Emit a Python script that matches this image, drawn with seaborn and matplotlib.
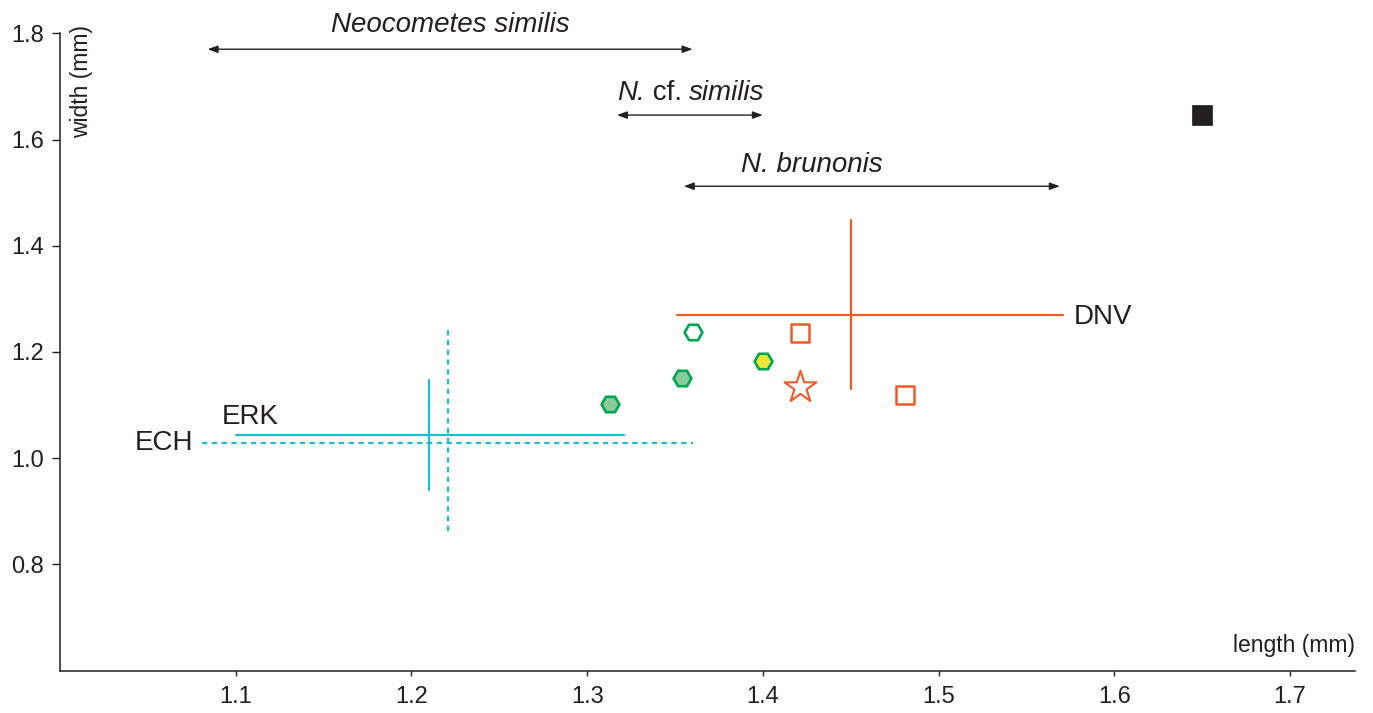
import numpy as np
import pandas as pd
import seaborn as sns
import matplotlib.pyplot as plt
from matplotlib.offsetbox import TextArea, HPacker, AnnotationBbox

# individual specimens (length, width in mm)
pt_length = [1.313, 1.354, 1.360, 1.400, 1.421, 1.421, 1.481, 1.650]
pt_width = [1.101, 1.150, 1.238, 1.183, 1.236, 1.133, 1.118, 1.647]
pt_kind = ['hex_fill', 'hex_fill', 'hex_open', 'hex_yellow',
           'square_open', 'star', 'square_open', 'square_black']

# population crosses: mean and min/max
pop_names = ['ERK', 'ECH', 'DNV']
pop_len_mean = [1.210, 1.221, 1.450]
pop_wid_mean = [1.044, 1.029, 1.269]
pop_len_min = [1.100, 1.081, 1.351]
pop_len_max = [1.321, 1.360, 1.571]
pop_wid_min = [0.940, 0.863, 1.130]
pop_wid_max = [1.147, 1.246, 1.448]

# length ranges of the taxa
taxa = ['Neocometes similis', 'N. cf. similis', 'N. brunonis']
taxa_min = [1.084, 1.317, 1.355]
taxa_max = [1.360, 1.400, 1.569]
taxa_y = [1.770, 1.646, 1.512]
taxa_label_x = [1.222, 1.359, 1.428]
taxa_label_y = [1.816, 1.687, 1.552]

x_ticks = [1.1, 1.2, 1.3, 1.4, 1.5, 1.6, 1.7]
y_ticks = [0.8, 1.0, 1.2, 1.4, 1.6, 1.8]

sns.set_style('ticks')
plt.rcParams['font.family'] = ['Liberation Sans', 'DejaVu Sans']

ink = '#231f20'
orange = '#f05a28'
cyan = '#1cbcd6'
green = '#00a651'

fig = plt.figure(figsize=(13.73, 7.13), dpi=100)
ax = fig.add_axes([60 / 1373, 1 - 670.5 / 713, 1295 / 1373, 637.2 / 713])

df = pd.DataFrame({'length': pt_length, 'width': pt_width, 'kind': pt_kind})

styles = {
    'hex_fill': dict(marker='H', s=165, color='#8acb9a', edgecolor=green, linewidth=1.9),
    'hex_open': dict(marker='H', s=165, color='white', edgecolor=green, linewidth=1.9),
    'hex_yellow': dict(marker='H', s=165, color='#eee73a', edgecolor=green, linewidth=1.9),
    'square_open': dict(marker='s', s=170, color='white', edgecolor=orange, linewidth=1.8),
    'star': dict(marker='*', s=580, color='white', edgecolor=orange, linewidth=1.5),
    'square_black': dict(marker='s', s=220, color=ink, edgecolor=ink, linewidth=0.5),
}

# population crosses
pop_dash = {'ERK': '-', 'ECH': (0, (2.4, 2.0)), 'DNV': '-'}
pop_color = {'ERK': cyan, 'ECH': cyan, 'DNV': orange}
for i, name in enumerate(pop_names):
    ax.plot([pop_len_min[i], pop_len_max[i]], [pop_wid_mean[i], pop_wid_mean[i]],
            color=pop_color[name], lw=1.6, ls=pop_dash[name], zorder=2)
    ax.plot([pop_len_mean[i], pop_len_mean[i]], [pop_wid_min[i], pop_wid_max[i]],
            color=pop_color[name], lw=1.6, ls=pop_dash[name], zorder=2)

for kind, st in styles.items():
    sub = df[df['kind'] == kind]
    sns.scatterplot(data=sub, x='length', y='width', ax=ax, zorder=3, legend=False, **st)

# population labels
ax.text(pop_len_min[0] - 0.008, pop_wid_mean[0] + 0.034, 'ERK', fontsize=20,
        color=ink, ha='left', va='center')
ax.text(pop_len_min[1] - 0.005, pop_wid_mean[1], 'ECH', fontsize=20,
        color=ink, ha='right', va='center')
ax.text(pop_len_max[2] + 0.006, pop_wid_mean[2] - 0.004, 'DNV', fontsize=20,
        color=ink, ha='left', va='center')

# taxon length ranges
for i in range(len(taxa)):
    ax.annotate('', xy=(taxa_min[i], taxa_y[i]), xytext=(taxa_max[i], taxa_y[i]),
                arrowprops=dict(arrowstyle='<|-|>,head_length=0.6,head_width=0.22',
                                color=ink, lw=1.0, shrinkA=0, shrinkB=0),
                annotation_clip=False)

tprops = dict(fontsize=20, color=ink)
for i in [0, 2]:
    ax.text(taxa_label_x[i], taxa_label_y[i], taxa[i], style='italic',
            ha='center', va='center', clip_on=False, **tprops)

# "N. cf. similis" with upright "cf."
parts = [TextArea('N.', textprops=dict(style='italic', **tprops)),
         TextArea(' cf. ', textprops=dict(style='normal', **tprops)),
         TextArea('similis', textprops=dict(style='italic', **tprops))]
packed = HPacker(children=parts, align='baseline', pad=0, sep=0)
ab = AnnotationBbox(packed, (taxa_label_x[1], taxa_label_y[1]), xycoords='data',
                    box_alignment=(0.5, 0.5), frameon=False, pad=0,
                    annotation_clip=False)
ax.add_artist(ab)

ax.set_xlim(1.0, 1.737)
ax.set_ylim(0.6, 1.8)
ax.set_xticks(x_ticks)
ax.set_yticks(y_ticks)
ax.set_xticklabels([f'{v:.1f}' for v in x_ticks])
ax.set_yticklabels([f'{v:.1f}' for v in y_ticks])
ax.set_xlabel('')
ax.set_ylabel('')
ax.tick_params(axis='x', length=3.5, width=1.0, pad=8, labelsize=17, colors=ink)
ax.tick_params(axis='y', length=5.5, width=1.0, pad=6, labelsize=17, colors=ink)
sns.despine(ax=ax)
for side in ['left', 'bottom']:
    ax.spines[side].set_linewidth(1.1)
    ax.spines[side].set_color(ink)

ax.text(1.0125, 1.8156, 'width (mm)', rotation=90, fontsize=16.5, color=ink,
        ha='center', va='top', clip_on=False)
ax.text(1.737, 0.648, 'length (mm)', fontsize=16.5, color=ink, ha='right', va='center')

fig.savefig('out.png', dpi=100)
